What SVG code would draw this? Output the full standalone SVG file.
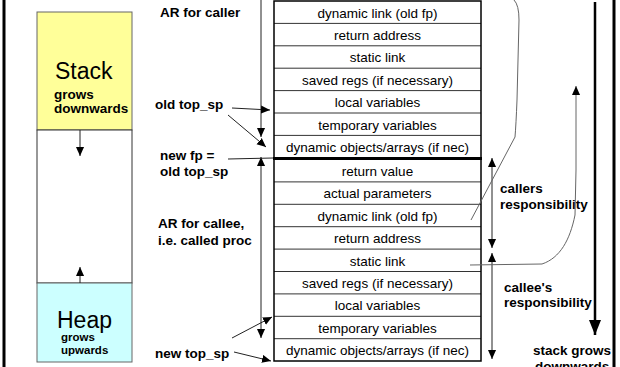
<svg xmlns="http://www.w3.org/2000/svg" width="620" height="367" viewBox="0 0 620 367">
<style>
text{font-family:"Liberation Sans",Arial,sans-serif;fill:#000}
.b{font-weight:bold;font-size:13.5px}
.c{font-size:13.5px;text-anchor:middle}
.big{font-size:23px}
.sm{font-weight:bold;font-size:11.5px}
.row{stroke:#333;stroke-width:1}
.arr{stroke:#222;stroke-width:1;fill:none}
.cur{stroke:#666;stroke-width:1;fill:none}
</style>
<defs>
<marker id="ah" viewBox="0 0 10 10" refX="10" refY="5" markerWidth="9" markerHeight="9" markerUnits="userSpaceOnUse" orient="auto-start-reverse"><path d="M0,0.5 L10,5 L0,9.5 z" fill="#000"/></marker>
<marker id="bigah" viewBox="0 0 15 12" refX="15" refY="6" markerWidth="15" markerHeight="12" markerUnits="userSpaceOnUse" orient="auto"><path d="M0,0 L15,6 L0,12 z" fill="#000"/></marker>
</defs>
<rect width="620" height="367" fill="#fff"/>
<g id="frame">
<line x1="4" y1="0" x2="4" y2="367" stroke="#000" stroke-width="3"/>
<line x1="614" y1="0" x2="614" y2="367" stroke="#000" stroke-width="3"/>
</g>
<g id="stack">
<rect x="37" y="12" width="95" height="118" fill="#FFFF99" stroke="#666"/>
<text x="55" y="79" class="big">Stack</text>
<text x="54" y="99" class="b">grows</text>
<text x="54" y="113" class="b">downwards</text>
</g>
<g id="free">
<rect x="37" y="130" width="95" height="153" fill="#fff" stroke="#333"/>
</g>
<g id="heap">
<rect x="37" y="283" width="95" height="79" fill="#CCFFFF" stroke="#666"/>
<text x="57" y="328" class="big">Heap</text>
<text x="61" y="341" class="sm">grows</text>
<text x="61" y="354" class="sm">upwards</text>
</g>
<g id="caller-ar">
<line class="row" x1="274" y1="23.4" x2="481" y2="23.4"/>
<line class="row" x1="274" y1="45.8" x2="481" y2="45.8"/>
<line class="row" x1="274" y1="68.2" x2="481" y2="68.2"/>
<line class="row" x1="274" y1="90.6" x2="481" y2="90.6"/>
<line class="row" x1="274" y1="113" x2="481" y2="113"/>
<line class="row" x1="274" y1="135.4" x2="481" y2="135.4"/>
<text x="377.5" y="17.5" class="c">dynamic link (old fp)</text>
<text x="377.5" y="39.9" class="c">return address</text>
<text x="377.5" y="62.3" class="c">static link</text>
<text x="377.5" y="84.7" class="c">saved regs (if necessary)</text>
<text x="377.5" y="107.1" class="c">local variables</text>
<text x="377.5" y="129.5" class="c">temporary variables</text>
<text x="377.5" y="151.9" class="c">dynamic objects/arrays (if nec)</text>
</g>
<g id="callee-ar">
<line class="row" x1="274" y1="181.9" x2="481" y2="181.9"/>
<line class="row" x1="274" y1="204.3" x2="481" y2="204.3"/>
<line class="row" x1="274" y1="226.7" x2="481" y2="226.7"/>
<line class="row" x1="274" y1="249.1" x2="481" y2="249.1"/>
<line class="row" x1="274" y1="271.5" x2="481" y2="271.5"/>
<line class="row" x1="274" y1="293.9" x2="481" y2="293.9"/>
<line class="row" x1="274" y1="316.3" x2="481" y2="316.3"/>
<line class="row" x1="274" y1="338.7" x2="481" y2="338.7"/>
<text x="377.5" y="176" class="c">return value</text>
<text x="377.5" y="198.4" class="c">actual parameters</text>
<text x="377.5" y="220.8" class="c">dynamic link (old fp)</text>
<text x="377.5" y="243.2" class="c">return address</text>
<text x="377.5" y="265.6" class="c">static link</text>
<text x="377.5" y="288" class="c">saved regs (if necessary)</text>
<text x="377.5" y="310.4" class="c">local variables</text>
<text x="377.5" y="332.8" class="c">temporary variables</text>
<text x="377.5" y="355.2" class="c">dynamic objects/arrays (if nec)</text>
</g>
<g id="table-border">
<rect x="274" y="1" width="207" height="360" fill="none" stroke="#000" stroke-width="1.5"/>
<line x1="273" y1="158.5" x2="482" y2="158.5" stroke="#000" stroke-width="3"/>
</g>
<g id="labels">
<text x="160" y="17" class="b">AR for caller</text>
<text x="155" y="109" class="b">old top_sp</text>
<text x="160" y="160" class="b">new fp =</text>
<text x="160" y="176" class="b">old top_sp</text>
<text x="158" y="228" class="b">AR for callee,</text>
<text x="158" y="245" class="b">i.e. called proc</text>
<text x="155" y="358" class="b">new top_sp</text>
<text x="500" y="193" class="b">callers</text>
<text x="500" y="209" class="b">responsibility</text>
<text x="504" y="292" class="b">callee's</text>
<text x="504" y="307" class="b">responsibility</text>
<text x="533" y="355" class="b">stack grows</text>
<text x="535" y="371" class="b">downwards</text>
</g>
<g id="connectors">
<line class="arr" x1="80" y1="130" x2="80" y2="156" marker-end="url(#ah)"/>
<line class="arr" x1="80" y1="283" x2="80" y2="267" marker-end="url(#ah)"/>
<line class="arr" x1="261" y1="0" x2="261" y2="137" marker-end="url(#ah)"/>
<line class="arr" x1="261" y1="157" x2="261" y2="338" marker-start="url(#ah)" marker-end="url(#ah)"/>
<line class="arr" x1="232" y1="108" x2="270" y2="110" marker-end="url(#ah)"/>
<line class="arr" x1="228" y1="115" x2="266" y2="147" marker-end="url(#ah)"/>
<line class="arr" x1="228" y1="159" x2="273" y2="158"/>
<line class="arr" x1="232" y1="338" x2="272" y2="317" marker-end="url(#ah)"/>
<line class="arr" x1="234" y1="352" x2="271" y2="361" marker-end="url(#ah)"/>
<line class="arr" x1="492" y1="158" x2="492" y2="248" marker-start="url(#ah)" marker-end="url(#ah)"/>
<line class="arr" x1="492" y1="253" x2="492" y2="359" marker-start="url(#ah)" marker-end="url(#ah)"/>
<path class="cur" d="M514 0 Q519 5 519 20 L517 100 Q516 125 515 137 L471 220"/>
<path class="cur" d="M470 265 L542 264 C560 258 570 240 575 215 L576 170 L576 86" marker-end="url(#ah)"/>
<line x1="595" y1="2" x2="595" y2="335" stroke="#000" stroke-width="2.5" marker-end="url(#bigah)"/>
</g>
</svg>
